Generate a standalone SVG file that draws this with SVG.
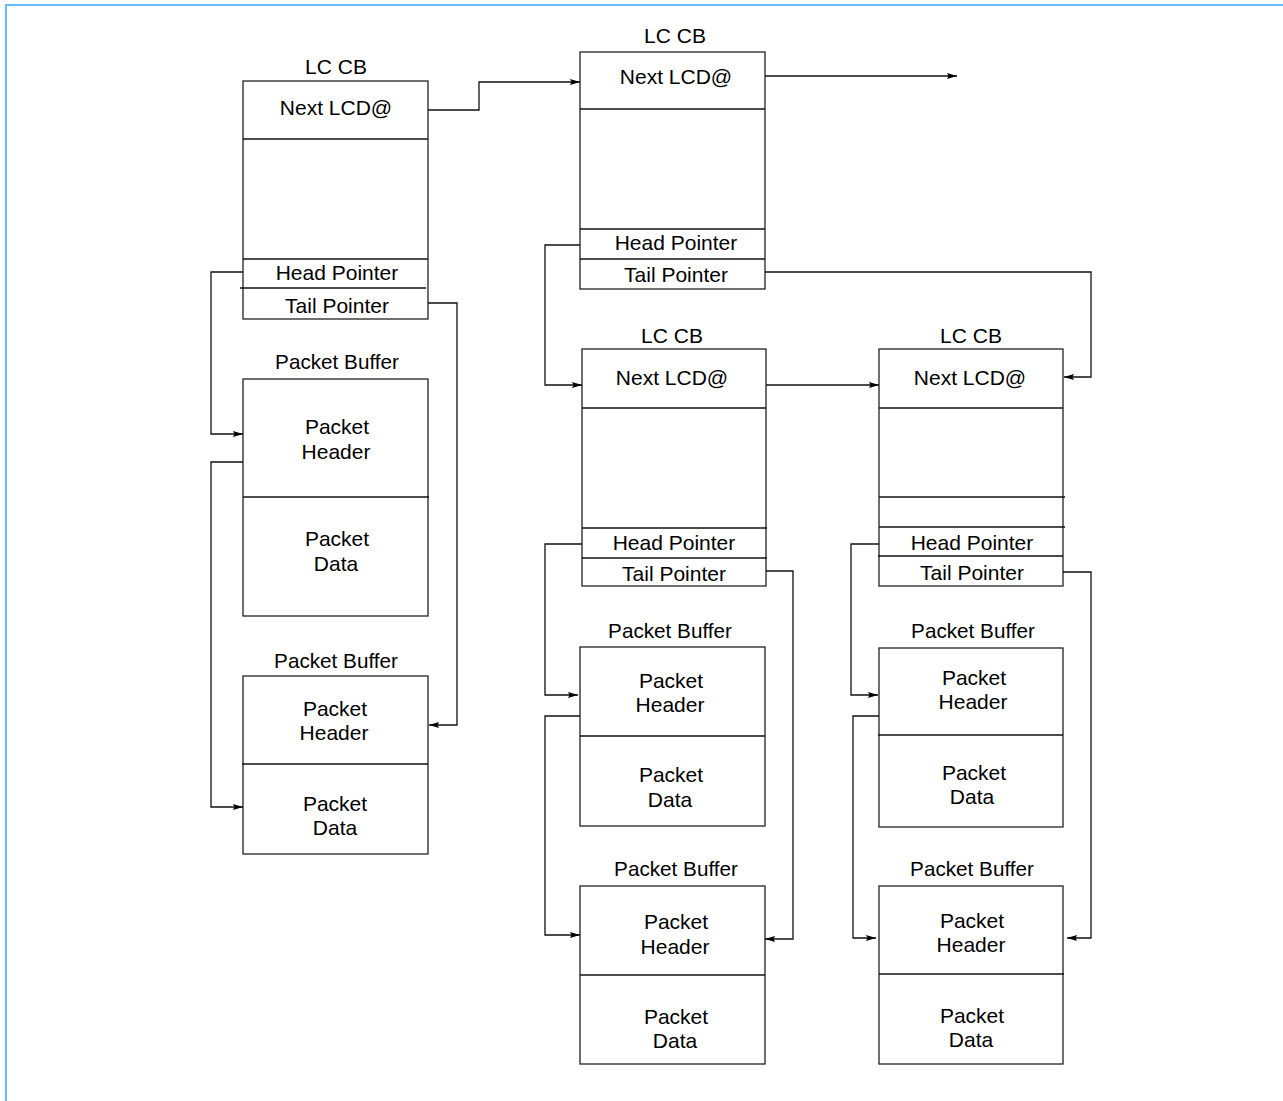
<svg xmlns="http://www.w3.org/2000/svg" width="1283" height="1101" viewBox="0 0 1283 1101">
<defs>
<marker id="arr" viewBox="0 0 10 6" refX="10" refY="3" markerWidth="10" markerHeight="6" markerUnits="userSpaceOnUse" orient="auto">
<path d="M0,0 L10,3 L0,6 L1.5,3 Z" fill="#000"/>
</marker>
<style>
.box{fill:#fff;stroke:#222;stroke-width:1.3}
.div{stroke:#111;stroke-width:1.3;fill:none}
.t{font-family:"Liberation Sans",Arial,Helvetica,sans-serif;font-size:21px;fill:#000;text-anchor:middle}
.pb{font-size:20.7px}
.c{fill:none;stroke:#111;stroke-width:1.3;marker-end:url(#arr)}
</style>
</defs>
<rect width="1283" height="1101" fill="#fff"/>
<path d="M6,1101 V5 H1283" fill="none" stroke="#66bbff" stroke-width="2"/>

<g id="lccb1">
<rect class="box" x="243" y="81" width="185" height="238"/>
<line class="div" x1="243" y1="139" x2="428" y2="139"/>
<line class="div" x1="243" y1="259" x2="428" y2="259"/>
<line class="div" x1="240" y1="288" x2="426" y2="288"/>
<text class="t" x="336" y="74">LC CB</text>
<text class="t" x="336" y="115">Next LCD@</text>
<text class="t" x="337" y="280">Head Pointer</text>
<text class="t" x="337" y="313">Tail Pointer</text>
</g>

<g id="lccb2">
<rect class="box" x="580" y="52" width="185" height="237"/>
<line class="div" x1="580" y1="109" x2="765" y2="109"/>
<line class="div" x1="580" y1="229" x2="765" y2="229"/>
<line class="div" x1="580" y1="259" x2="765" y2="259"/>
<text class="t" x="675" y="43">LC CB</text>
<text class="t" x="676" y="84">Next LCD@</text>
<text class="t" x="676" y="250">Head Pointer</text>
<text class="t" x="676" y="282">Tail Pointer</text>
</g>

<g id="lccb3">
<rect class="box" x="582" y="349" width="184" height="237"/>
<line class="div" x1="582" y1="408" x2="766" y2="408"/>
<line class="div" x1="582" y1="528" x2="767" y2="528"/>
<line class="div" x1="582" y1="558" x2="767" y2="558"/>
<text class="t" x="672" y="343">LC CB</text>
<text class="t" x="672" y="385">Next LCD@</text>
<text class="t" x="674" y="550">Head Pointer</text>
<text class="t" x="674" y="581">Tail Pointer</text>
</g>

<g id="lccb4">
<rect class="box" x="879" y="349" width="184" height="237"/>
<line class="div" x1="879" y1="408" x2="1063" y2="408"/>
<line class="div" x1="879" y1="497" x2="1065" y2="497"/>
<line class="div" x1="879" y1="527" x2="1065" y2="527"/>
<line class="div" x1="878" y1="556" x2="1063" y2="556"/>
<text class="t" x="971" y="343">LC CB</text>
<text class="t" x="970" y="385">Next LCD@</text>
<text class="t" x="972" y="550">Head Pointer</text>
<text class="t" x="972" y="580">Tail Pointer</text>
</g>

<g id="pb1">
<rect class="box" x="243" y="379" width="185" height="237"/>
<line class="div" x1="243" y1="497" x2="429" y2="497"/>
<text class="t pb" x="337" y="369">Packet Buffer</text>
<text class="t" x="337" y="434">Packet</text>
<text class="t" x="336" y="459">Header</text>
<text class="t" x="337" y="546">Packet</text>
<text class="t" x="336" y="571">Data</text>
</g>

<g id="pb2">
<rect class="box" x="243" y="676" width="185" height="178"/>
<line class="div" x1="242" y1="764" x2="428" y2="764"/>
<text class="t pb" x="336" y="668">Packet Buffer</text>
<text class="t" x="335" y="716">Packet</text>
<text class="t" x="334" y="740">Header</text>
<text class="t" x="335" y="811">Packet</text>
<text class="t" x="335" y="835">Data</text>
</g>

<g id="pb3">
<rect class="box" x="580" y="647" width="185" height="179"/>
<line class="div" x1="580" y1="736" x2="765" y2="736"/>
<text class="t pb" x="670" y="638">Packet Buffer</text>
<text class="t" x="671" y="688">Packet</text>
<text class="t" x="670" y="712">Header</text>
<text class="t" x="671" y="782">Packet</text>
<text class="t" x="670" y="807">Data</text>
</g>

<g id="pb4">
<rect class="box" x="580" y="886" width="185" height="178"/>
<line class="div" x1="580" y1="975" x2="765" y2="975"/>
<text class="t pb" x="676" y="876">Packet Buffer</text>
<text class="t" x="676" y="929">Packet</text>
<text class="t" x="675" y="954">Header</text>
<text class="t" x="676" y="1024">Packet</text>
<text class="t" x="675" y="1048">Data</text>
</g>

<g id="pb5">
<rect class="box" x="879" y="648" width="184" height="179"/>
<line class="div" x1="878" y1="735" x2="1063" y2="735"/>
<text class="t pb" x="973" y="638">Packet Buffer</text>
<text class="t" x="974" y="685">Packet</text>
<text class="t" x="973" y="709">Header</text>
<text class="t" x="974" y="780">Packet</text>
<text class="t" x="972" y="804">Data</text>
</g>

<g id="pb6">
<rect class="box" x="879" y="886" width="184" height="178"/>
<line class="div" x1="879" y1="974" x2="1064" y2="974"/>
<text class="t pb" x="972" y="876">Packet Buffer</text>
<text class="t" x="972" y="928">Packet</text>
<text class="t" x="971" y="952">Header</text>
<text class="t" x="972" y="1023">Packet</text>
<text class="t" x="971" y="1047">Data</text>
</g>

<g id="connectors">
<path class="c" d="M428,110 H479 V82 H580"/>
<path class="c" d="M765,76 H957"/>
<path class="c" d="M580,245 H545 V385 H582"/>
<path class="c" d="M765,272 H1091 V377 H1064"/>
<path class="c" d="M766,385 H879"/>
<path class="c" d="M243,272 H211 V434 H243"/>
<path class="c" d="M243,462 H211 V807 H243"/>
<path class="c" d="M428,303 H457 V725 H429"/>
<path class="c" d="M582,544 H545 V695 H578"/>
<path class="c" d="M580,716 H545 V935 H580"/>
<path class="c" d="M766,571 H793 V939 H765"/>
<path class="c" d="M879,544 H851 V695 H878"/>
<path class="c" d="M879,716 H853 V938 H876"/>
<path class="c" d="M1063,572 H1091 V938 H1067"/>
</g>
</svg>
